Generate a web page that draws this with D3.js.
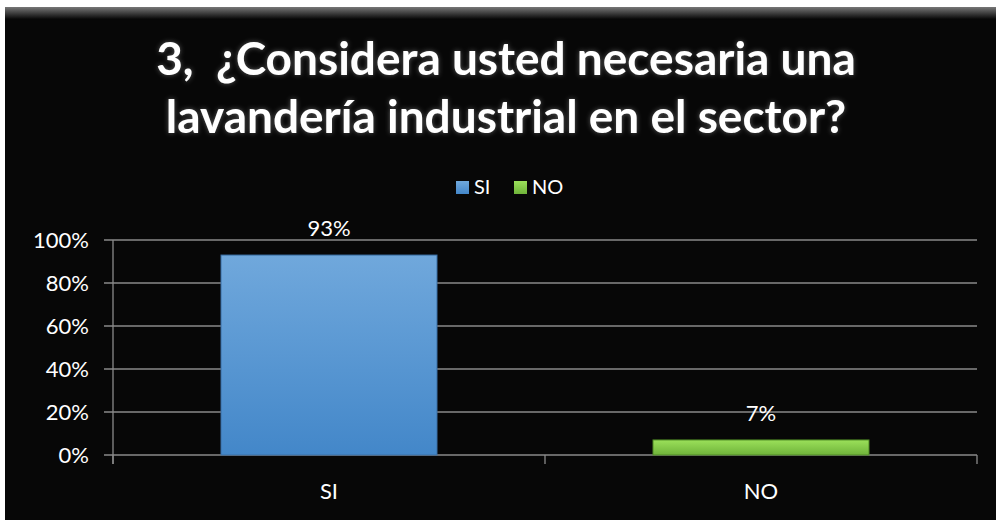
<!DOCTYPE html>
<html><head><meta charset="utf-8">
<script src="https://cdn.jsdelivr.net/npm/d3@7"></script>
<style>body{margin:0;background:#fff;}svg{display:block;}text{white-space:pre;}</style>
</head><body>
<script>
const categories = ["SI", "NO"];
const values = [0.93, 0.07];
const valueLabels = ["93%", "7%"];
const yTicks = [0, 0.2, 0.4, 0.6, 0.8, 1.0];
const titleLines = ["3,  ¿Considera usted necesaria una", "lavandería industrial en el sector?"];

const W = 1000, H = 520;
const svg = d3.select("body").append("svg").attr("width", W).attr("height", H);
const defs = svg.append("defs");
const gb = defs.append("linearGradient").attr("id","gblue").attr("x1",0).attr("y1",0).attr("x2",0).attr("y2",1);
gb.append("stop").attr("offset","0%").attr("stop-color","#70a8dc");
gb.append("stop").attr("offset","100%").attr("stop-color","#4387c9");
const gg = defs.append("linearGradient").attr("id","ggreen").attr("x1",0).attr("y1",0).attr("x2",0).attr("y2",1);
gg.append("stop").attr("offset","0%").attr("stop-color","#9be05a");
gg.append("stop").attr("offset","100%").attr("stop-color","#6fb33a");
const gt = defs.append("linearGradient").attr("id","gtop").attr("x1",0).attr("y1",0).attr("x2",0).attr("y2",1);
gt.append("stop").attr("offset","0%").attr("stop-color","#777");
gt.append("stop").attr("offset","100%").attr("stop-color","#080808");
const glow = defs.append("filter").attr("id","glow").attr("x","-10%").attr("y","-30%").attr("width","120%").attr("height","160%");
glow.append("feGaussianBlur").attr("in","SourceAlpha").attr("stdDeviation",2.5).attr("result","b");
glow.append("feFlood").attr("flood-color","#aaa").attr("flood-opacity",0.5);
glow.append("feComposite").attr("in2","b").attr("operator","in").attr("result","s");
const m = glow.append("feMerge"); m.append("feMergeNode").attr("in","s"); m.append("feMergeNode").attr("in","SourceGraphic");

// panel
svg.append("rect").attr("x",5).attr("y",7).attr("width",991).attr("height",513).attr("fill","#070707");
svg.append("rect").attr("x",5).attr("y",7).attr("width",991).attr("height",12).attr("fill","url(#gtop)");

const font = "Lato, 'Open Sans', sans-serif";
const x = d3.scaleBand().domain(categories).range([113, 977]).paddingInner(0.5).paddingOuter(0.25);
const y = d3.scaleLinear().domain([0, 1]).range([455, 240]);

// title
svg.append("g").attr("filter","url(#glow)").selectAll("text").data(titleLines).join("text")
  .attr("x", 506).attr("y", (d,i) => 75 + i*58).attr("text-anchor","middle")
  .attr("fill","#fff").attr("font-family", font).attr("font-weight","bold").attr("font-size", 46).text(d => d);

// legend
const legend = svg.append("g");
const legItems = [{k:"SI", x:456, fill:"url(#gblue)"},{k:"NO", x:514, fill:"url(#ggreen)"}];
legItems.forEach(l => {
  legend.append("rect").attr("x", l.x).attr("y", 181).attr("width", 13).attr("height", 13).attr("fill", l.fill);
  legend.append("text").attr("x", l.x + 18).attr("y", 194).attr("fill","#fff").attr("font-family",font).attr("font-size",20).text(l.k);
});

// gridlines
svg.append("g").selectAll("line").data(yTicks).join("line")
  .attr("x1", 104).attr("x2", 977).attr("y1", d => y(d)).attr("y2", d => y(d))
  .attr("stroke","#8a8a8a").attr("stroke-width",1.3);
// y axis line
svg.append("line").attr("x1",113).attr("x2",113).attr("y1",240).attr("y2",464).attr("stroke","#8a8a8a").attr("stroke-width",1.3);
// x ticks
svg.append("g").selectAll("line").data([113,545,977]).join("line")
  .attr("x1",d=>d).attr("x2",d=>d).attr("y1",455).attr("y2",464).attr("stroke","#8a8a8a").attr("stroke-width",1.3);

// y labels
svg.append("g").selectAll("text").data(yTicks).join("text")
  .attr("x", 89).attr("y", d => y(d) + 8).attr("text-anchor","end")
  .attr("fill","#fff").attr("font-family",font).attr("font-size",22).text(d => d3.format(".0%")(d));

// bars
const fills = ["url(#gblue)", "url(#ggreen)"];
const strokes = ["#3a6fa5", "#4f8a25"];
svg.append("g").selectAll("rect").data(values).join("rect")
  .attr("x", (d,i) => x(categories[i])).attr("width", x.bandwidth())
  .attr("y", d => y(d)).attr("height", d => y(0) - y(d))
  .attr("fill", (d,i) => fills[i]).attr("stroke", (d,i) => strokes[i]).attr("stroke-width",1);

// value labels
svg.append("g").selectAll("text").data(values).join("text")
  .attr("x", (d,i) => x(categories[i]) + x.bandwidth()/2).attr("y", d => y(d) - 19)
  .attr("text-anchor","middle").attr("fill","#fff").attr("font-family",font).attr("font-size",22)
  .text((d,i) => valueLabels[i]);

// x labels
svg.append("g").selectAll("text").data(categories).join("text")
  .attr("x", d => x(d) + x.bandwidth()/2).attr("y", 499).attr("text-anchor","middle")
  .attr("fill","#fff").attr("font-family",font).attr("font-size",22).text(d => d);
</script>
</body></html>
